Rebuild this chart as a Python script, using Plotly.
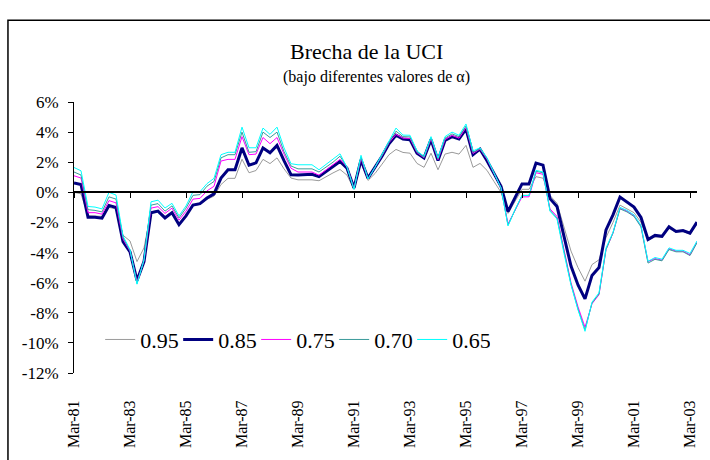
import plotly.graph_objects as go

# Quarterly categories Mar-81 .. Jun-03
years = list(range(81, 100)) + list(range(0, 4))
months = ["Mar", "Jun", "Sep", "Dec"]
categories = [f"{m}-{y:02d}" for y in years for m in months][:90]

tick_labels = ["Mar-81", "Mar-83", "Mar-85", "Mar-87", "Mar-89", "Mar-91",
               "Mar-93", "Mar-95", "Mar-97", "Mar-99", "Mar-01", "Mar-03"]
y_ticks = [6, 4, 2, 0, -2, -4, -6, -8, -10, -12]
y_tick_labels = ["6%", "4%", "2%", "0%", "-2%", "-4%", "-6%", "-8%", "-10%", "-12%"]

s095 = [0.0, -0.1, -1.55, -1.55, -1.6, -1.0, -1.1, -2.85, -3.23, -4.6,
        -3.69, -1.3, -1.2, -1.6, -1.3, -2.1, -1.5, -0.9, -0.8, -0.46,
        -0.25, 0.52, 0.93, 0.93, 2.2, 1.3, 1.45, 2.19, 1.91, 2.29,
        1.56, 0.95, 0.83, 0.83, 0.83, 0.77, 1.04, 1.29, 1.52, 1.14,
        0.2, 1.95, 0.79, 1.25, 1.87, 2.5, 2.85, 2.65, 2.6, 1.92,
        1.66, 2.6, 1.5, 2.54, 2.66, 2.54, 3.12, 1.66, 1.92, 1.46,
        0.72, 0.0, -1.4, -0.6, 0.2, 0.2, 1.04, 0.94, -0.21, -0.73,
        -2.4, -3.9, -5.0, -5.9, -4.8, -4.48, -3.0, -2.0, -0.85, -1.1,
        -1.35, -2.0, -3.2, -2.95, -2.97, -2.4, -2.65, -2.6, -2.78, -2.1]

s085 = [0.62, 0.52, -1.65, -1.65, -1.72, -0.87, -1.01, -3.28, -3.96, -5.85,
        -4.6, -1.36, -1.25, -1.7, -1.35, -2.15, -1.56, -0.84, -0.75, -0.38,
        -0.1, 0.95, 1.5, 1.5, 2.95, 1.8, 1.96, 2.95, 2.63, 3.12,
        2.1, 1.17, 1.15, 1.15, 1.2, 1.04, 1.41, 1.72, 2.05, 1.6,
        0.29, 2.15, 0.94, 1.66, 2.39, 3.23, 3.79, 3.54, 3.5, 2.6,
        2.29, 3.5, 2.12, 3.44, 3.7, 3.54, 4.2, 2.5, 2.87, 2.1,
        1.2, 0.4, -1.28, -0.4, 0.56, 0.56, 1.94, 1.81, -0.42, -0.94,
        -3.02, -4.9, -6.15, -7.08, -5.52, -5.0, -2.5, -1.5, -0.31, -0.63,
        -0.98, -1.67, -3.13, -2.86, -2.92, -2.29, -2.6, -2.54, -2.71, -1.98]

s075 = [1.1, 0.95, -1.35, -1.35, -1.45, -0.55, -0.7, -3.1, -3.9, -5.95,
        -4.55, -1.05, -0.95, -1.4, -1.05, -1.85, -1.25, -0.45, -0.4, 0.1,
        0.4, 2.08, 2.19, 2.19, 3.7, 2.5, 2.54, 3.64, 3.23, 3.64,
        2.54, 1.6, 1.35, 1.35, 1.35, 1.14, 1.5, 1.85, 2.19, 1.7,
        0.25, 2.25, 0.9, 1.66, 2.43, 3.3, 3.85, 3.6, 3.58, 2.64,
        2.3, 3.56, 2.17, 3.5, 3.78, 3.6, 4.3, 2.58, 2.88, 2.2,
        1.25, 0.3, -2.1, -1.15, -0.3, -0.3, 1.3, 1.2, -1.1, -1.6,
        -3.9, -6.0, -7.6, -8.96, -7.4, -6.8, -3.8, -2.7, -1.05, -1.25,
        -1.55, -2.25, -4.6, -4.4, -4.5, -3.75, -3.9, -3.9, -4.15, -3.3]

s070 = [1.35, 1.15, -1.15, -1.2, -1.3, -0.3, -0.45, -3.0, -3.85, -6.05,
        -4.5, -0.85, -0.75, -1.25, -0.9, -1.7, -1.05, -0.2, -0.15, 0.41,
        0.72, 2.29, 2.5, 2.5, 4.0, 2.66, 2.7, 4.0, 3.64, 4.0,
        2.7, 1.75, 1.56, 1.56, 1.56, 1.35, 1.65, 2.0, 2.4, 1.68,
        0.22, 2.35, 0.9, 1.66, 2.45, 3.33, 4.06, 3.7, 3.68, 2.68,
        2.33, 3.62, 2.22, 3.6, 3.88, 3.7, 4.4, 2.65, 2.9, 2.25,
        1.3, 0.3, -2.18, -1.15, -0.2, -0.2, 1.4, 1.3, -1.2, -1.7,
        -4.0, -6.1, -7.75, -9.15, -7.35, -6.75, -3.8, -2.7, -1.1, -1.3,
        -1.6, -2.3, -4.7, -4.45, -4.55, -3.8, -3.95, -3.95, -4.2, -3.35]

s065 = [1.65, 1.43, -0.94, -0.98, -1.1, 0.0, -0.18, -2.9, -3.81, -6.1,
        -4.48, -0.63, -0.52, -1.04, -0.73, -1.56, -0.9, 0.04, 0.04, 0.58,
        0.93, 2.5, 2.66, 2.66, 4.33, 2.96, 2.96, 4.27, 3.85, 4.33,
        2.96, 1.9, 1.83, 1.83, 1.83, 1.5, 1.87, 2.23, 2.56, 1.66,
        0.2, 2.46, 0.89, 1.66, 2.5, 3.37, 4.27, 3.8, 3.79, 2.75,
        2.39, 3.7, 2.29, 3.7, 4.0, 3.79, 4.54, 2.75, 2.96, 2.29,
        1.3, 0.3, -2.23, -1.15, -0.21, -0.21, 1.46, 1.35, -1.25, -1.77,
        -4.06, -6.15, -7.81, -9.23, -7.29, -6.67, -3.7, -2.65, -1.0, -1.2,
        -1.5, -2.2, -4.58, -4.33, -4.44, -3.69, -3.85, -3.85, -4.06, -3.23]

series_names = ["0.95", "0.85", "0.75", "0.70", "0.65"]
series_values = [s095, s085, s075, s070, s065]
series_colors = ["#9a9a9a", "#000080", "#ff00ff", "#3a9a9a", "#00ffff"]
series_widths = [1, 3, 1, 1, 1]

SERIF = "Liberation Serif, Times New Roman, serif"

fig = go.Figure()
for name, vals, col, w in zip(series_names, series_values, series_colors, series_widths):
    fig.add_trace(go.Scatter(x=categories, y=vals, mode="lines", name=name,
                             line=dict(color=col, width=w), xaxis="x", yaxis="y",
                             hoverinfo="x+y+name"))

# invisible helper trace for the bottom label axis
fig.add_trace(go.Scatter(x=categories, y=[None] * len(categories), mode="lines",
                         xaxis="x2", yaxis="y", showlegend=False, hoverinfo="skip"))

fig.update_layout(
    width=710, height=460,
    margin=dict(l=74, r=13, t=102, b=70),
    paper_bgcolor="white", plot_bgcolor="white",
    font=dict(family=SERIF, color="black"),
    showlegend=True,
    legend=dict(orientation="h", x=0.042, xanchor="left", y=0.123, yanchor="middle",
                font=dict(size=22, family=SERIF), bgcolor="rgba(0,0,0,0)",
                tracegroupgap=0, itemwidth=30, entrywidth=33, entrywidthmode="pixels"),
    xaxis=dict(type="category", range=[0, 89], anchor="free", position=12 / 18,
               showline=True, linecolor="black", linewidth=1.5,
               ticks="outside", ticklen=5, tickcolor="black", tickwidth=1,
               tickvals=tick_labels, showticklabels=False,
               showgrid=False, zeroline=False),
    xaxis2=dict(type="category", overlaying="x", matches="x", anchor="y", side="bottom",
                showline=False, ticks="outside", ticklen=20, tickcolor="rgba(0,0,0,0)",
                tickvals=tick_labels, ticktext=tick_labels, tickangle=-90,
                tickfont=dict(size=16, family=SERIF), showgrid=False, zeroline=False),
    yaxis=dict(range=[-12, 6], tickvals=y_ticks, ticktext=y_tick_labels,
               showline=True, linecolor="black", linewidth=1,
               ticks="outside", ticklen=5, tickcolor="black", ticklabelstandoff=6,
               tickfont=dict(size=17, family=SERIF),
               showgrid=False, zeroline=False),
    annotations=[
        dict(text="Brecha de la UCI", xref="paper", yref="paper", x=0.47, y=1.1875,
             xanchor="center", yanchor="middle", showarrow=False,
             font=dict(size=22, family=SERIF)),
        dict(text="(bajo diferentes valores de α)", xref="paper", yref="paper", x=0.485, y=1.094,
             xanchor="center", yanchor="middle", showarrow=False,
             font=dict(size=16, family=SERIF)),
    ],
    shapes=[dict(type="rect", xref="paper", yref="paper", x0=-0.106, x1=1.2, y0=-0.5, y1=1.302,
                 line=dict(color="black", width=1.5), fillcolor="rgba(0,0,0,0)", layer="below")],
)

fig.write_html("out.html", config={"displayModeBar": False},
               post_script="document.body.style.margin='0';")
